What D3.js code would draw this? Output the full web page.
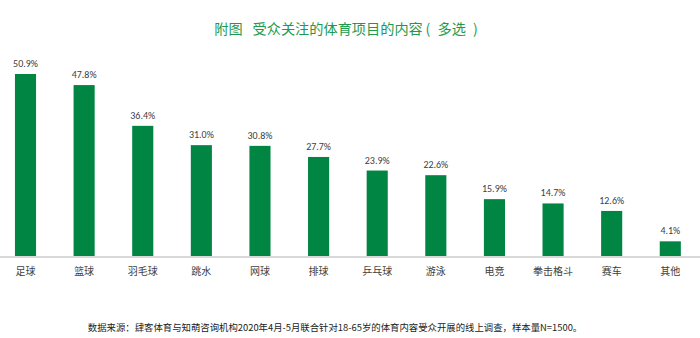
<!DOCTYPE html>
<html><head><meta charset="utf-8">
<script src="https://cdn.jsdelivr.net/npm/d3@7"></script>
<style>body{margin:0;background:#fff;}svg{display:block;font-family:"Noto Sans CJK SC",sans-serif;}</style>
</head><body><svg id="c" width="700" height="338"></svg>
<script>
const categories = ["足球","篮球","羽毛球","跳水","网球","排球","乒乓球","游泳","电竞","拳击格斗","赛车","其他"];
const values = [50.9,47.8,36.4,31.0,30.8,27.7,23.9,22.6,15.9,14.7,12.6,4.1];
const title = "附图\u2002\u2009受众关注的体育项目的内容\u2009(\u2002多选\u2002)";
const note = "数据来源：肆客体育与知萌咨询机构2020年4月-5月联合针对18-65岁的体育内容受众开展的线上调查，样本量N=1500。";

const svg = d3.select("#c");
const baseY = 256;
const x = d3.scaleBand().domain(categories).range([-3.8, 699.6]).paddingInner(0.64).paddingOuter(0.32);
const y = d3.scaleLinear().domain([0, 50.9]).range([baseY, 74]);

svg.append("text").attr("x", 346).attr("y", 34).attr("text-anchor","middle")
  .attr("font-size", 14.2).attr("fill", "#1e9a4c").text(title);

svg.selectAll("rect.bar").data(values).join("rect").attr("class","bar")
  .attr("x",(d,i)=>x(categories[i])).attr("width",x.bandwidth())
  .attr("y",d=>y(d)).attr("height",d=>baseY-y(d)).attr("fill","#008542");

svg.append("line").attr("x1",0).attr("x2",700).attr("y1",baseY+1).attr("y2",baseY+1)
  .attr("stroke","#d9d9d9").attr("stroke-width",2);

svg.selectAll("text.val").data(values).join("text").attr("class","val")
  .attr("x",(d,i)=>x(categories[i])+x.bandwidth()/2).attr("y",d=>y(d)-7)
  .attr("text-anchor","middle").attr("font-size",10).attr("fill","#404040")
  .attr("font-family","Calibri, Carlito, 'Liberation Sans', sans-serif")
  .text(d=>d.toFixed(1)+"%");

svg.selectAll("text.cat").data(categories).join("text").attr("class","cat")
  .attr("x",d=>x(d)+x.bandwidth()/2).attr("y",275)
  .attr("text-anchor","middle").attr("font-size",10).attr("fill","#404040").text(d=>d);

svg.append("text").attr("x",335).attr("y",331).attr("text-anchor","middle")
  .attr("font-size",9.4).attr("fill","#222").text(note);
</script></body></html>
